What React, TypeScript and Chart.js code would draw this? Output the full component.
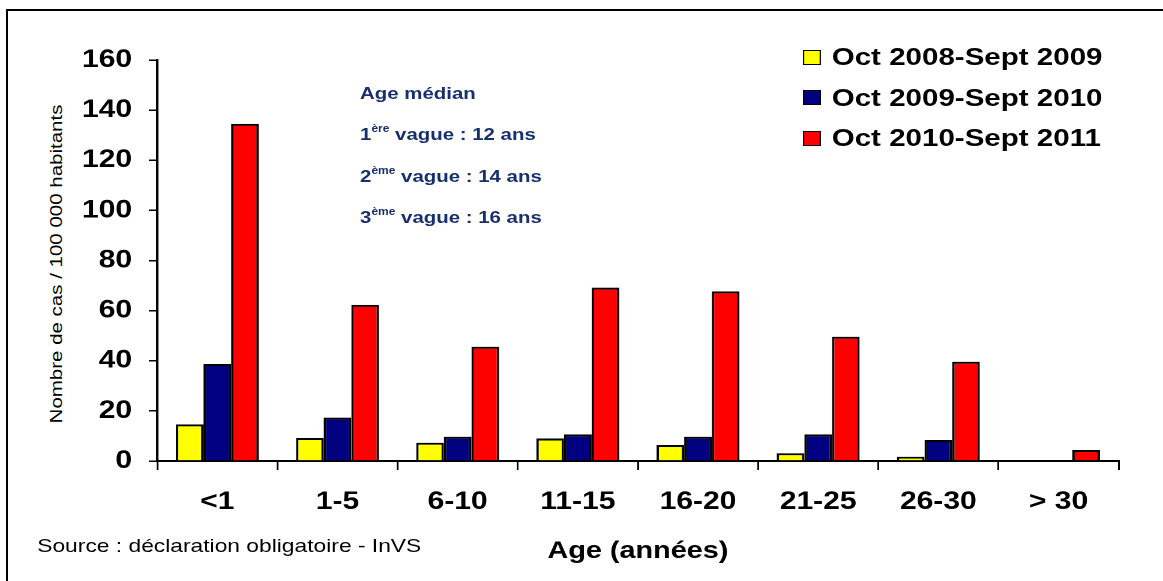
import React, { useEffect, useRef } from 'react';
import { Chart, registerables } from 'chart.js';

Chart.register(...registerables);

// ---- data ----
const categories = ['<1', '1-5', '6-10', '11-15', '16-20', '21-25', '26-30', '> 30'];
const series2008 = [14.6, 9.2, 7.3, 9.0, 6.4, 3.1, 1.7, 0];
const series2009 = [38.7, 17.3, 9.7, 10.6, 9.7, 10.6, 8.4, 0.4];
const series2010 = [134.5, 62.3, 45.6, 69.2, 67.7, 49.6, 39.6, 4.4];
const seriesLabels = ['Oct 2008-Sept 2009', 'Oct 2009-Sept 2010', 'Oct 2010-Sept 2011'];
const seriesColors = ['#FFFF00', '#000080', '#FF0000'];
const yMin = 0;
const yMax = 160;
const yStep = 20;
const yAxisTitle = 'Nombre de cas / 100 000 habitants';
const xAxisTitle = 'Age (années)';
const sourceText = 'Source : déclaration obligatoire - InVS';
const medianTitle = 'Age médian';
const medianNumbers = ['1', '2', '3'];
const medianSups = ['ère', 'ème', 'ème'];
const medianRest = [' vague : 12 ans', ' vague : 14 ans', ' vague : 16 ans'];

// ---- layout (logical units, horizontally stretched on screen) ----
const W = 969;
const H = 581;
const SX = 1163 / W;
const FONT = '"Liberation Sans", Arial, Helvetica, sans-serif';
const NAVY = '#172f6e';

export default function App() {
  const canvasRef = useRef<HTMLCanvasElement | null>(null);

  useEffect(() => {
    const canvas = canvasRef.current;
    if (!canvas) return;
    const allSeries = [series2008, series2009, series2010];
    const chart = new Chart(canvas, {
      type: 'bar',
      data: {
        labels: categories,
        datasets: allSeries.map((d, i) => ({
          label: seriesLabels[i],
          data: d,
          backgroundColor: seriesColors[i],
          borderColor: '#000',
          borderWidth: 2,
          categoryPercentage: 0.69,
          barPercentage: 1.0,
        })),
      },
      options: {
        responsive: false,
        animation: false,
        devicePixelRatio: 2,
        layout: { padding: { top: 60, right: 37, left: 0, bottom: 0 } },
        plugins: {
          legend: { display: false },
          tooltip: { enabled: false },
          title: { display: false },
        },
        scales: {
          x: {
            grid: {
              display: true,
              drawOnChartArea: false,
              drawTicks: true,
              tickLength: 9,
              color: '#000',
              lineWidth: 1.5,
              offset: true,
            },
            border: { display: true, color: '#000', width: 2 },
            ticks: {
              color: '#000',
              font: { family: FONT, size: 25, weight: 'bold' },
              padding: 17,
              maxRotation: 0,
              autoSkip: false,
            },
            title: {
              display: true,
              text: xAxisTitle,
              color: '#000',
              font: { family: FONT, size: 24, weight: 'bold' },
              padding: { top: 0, bottom: 15 },
            },
            afterFit: (s: any) => {
              s.height = 120;
            },
          },
          y: {
            min: yMin,
            max: yMax,
            ticks: {
              stepSize: yStep,
              color: '#000',
              font: { family: FONT, size: 25, weight: 'bold' },
              padding: 14,
            },
            grid: {
              display: true,
              drawOnChartArea: false,
              drawTicks: true,
              tickLength: 7,
              color: '#000',
              lineWidth: 1.5,
            },
            border: { display: true, color: '#000', width: 2 },
            afterFit: (s: any) => {
              s.width = 131;
            },
          },
        },
      },
    });
    return () => chart.destroy();
  }, []);

  return (
    <div
      style={{
        position: 'absolute',
        left: 0,
        top: 0,
        width: 1163,
        height: 581,
        overflow: 'hidden',
        background: '#fff',
      }}
    >
      {/* frame */}
      <div
        style={{
          position: 'absolute',
          left: 6,
          top: 9,
          width: 1200,
          height: 700,
          borderTop: '2px solid #000',
          borderLeft: '2px solid #000',
          boxSizing: 'border-box',
        }}
      />
      {/* y axis title */}
      <div style={{ position: 'absolute', left: 57, top: 264, width: 0, height: 0 }}>
        <div
          style={{
            position: 'absolute',
            left: 0,
            top: 0,
            transform: 'translate(-50%, -50%) rotate(-90deg) scaleX(1.28)',
            whiteSpace: 'nowrap',
            fontFamily: FONT,
            fontSize: 16,
            color: '#000',
            lineHeight: '18px',
          }}
        >
          {yAxisTitle}
        </div>
      </div>
      {/* stretched chart layer */}
      <div
        style={{
          position: 'absolute',
          left: 0,
          top: 0,
          width: W,
          height: H,
          transform: `scaleX(${SX})`,
          transformOrigin: '0 0',
        }}
      >
        <canvas ref={canvasRef} width={W} height={H} />
        {/* legend */}
        {seriesLabels.map((lab, i) => (
          <div
            key={lab}
            style={{
              position: 'absolute',
              left: 669,
              top: 57 - 15 + i * 40.5,
              height: 30,
              display: 'flex',
              alignItems: 'center',
              whiteSpace: 'nowrap',
            }}
          >
            <span
              style={{
                display: 'inline-block',
                width: 15,
                height: 15,
                boxSizing: 'border-box',
                background: seriesColors[i],
                border: '1.5px solid #000',
                marginRight: 9,
              }}
            />
            <span
              style={{
                fontFamily: FONT,
                fontWeight: 'bold',
                fontSize: 24.6,
                lineHeight: '30px',
                color: '#000',
              }}
            >
              {lab}
            </span>
          </div>
        ))}
        {/* median annotation */}
        <div
          style={{
            position: 'absolute',
            left: 300,
            top: 94 - 10,
            height: 20,
            lineHeight: '20px',
            fontFamily: FONT,
            fontWeight: 'bold',
            fontSize: 17,
            color: NAVY,
            whiteSpace: 'nowrap',
          }}
        >
          {medianTitle}
        </div>
        {medianNumbers.map((n, i) => (
          <div
            key={n}
            style={{
              position: 'absolute',
              left: 300,
              top: 135 - 10 + i * 41.5,
              height: 20,
              lineHeight: '20px',
              fontFamily: FONT,
              fontWeight: 'bold',
              fontSize: 17,
              color: NAVY,
              whiteSpace: 'pre',
            }}
          >
            {n}
            <span style={{ fontSize: 10, position: 'relative', top: -8 }}>{medianSups[i]}</span>
            {medianRest[i]}
          </div>
        ))}
        {/* source */}
        <div
          style={{
            position: 'absolute',
            left: 31,
            top: 546 - 12,
            height: 24,
            lineHeight: '24px',
            fontFamily: FONT,
            fontSize: 19,
            color: '#000',
            whiteSpace: 'nowrap',
          }}
        >
          {sourceText}
        </div>
      </div>
    </div>
  );
}
